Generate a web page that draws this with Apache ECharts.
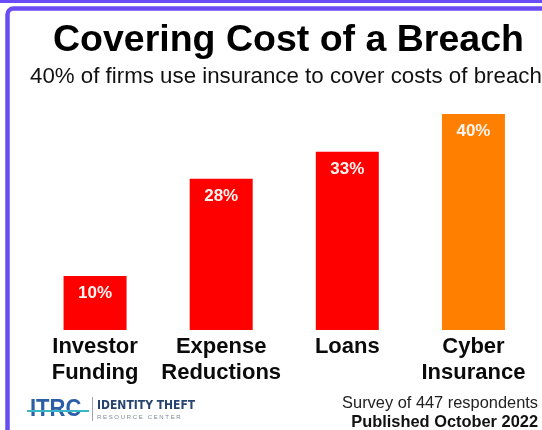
<!DOCTYPE html>
<html>
<head>
<meta charset="utf-8">
<script src="https://cdn.jsdelivr.net/npm/echarts@6/dist/echarts.min.js"></script>
<style>
html,body{margin:0;padding:0;background:#fff;}
#chart{width:542px;height:430px;}
</style>
</head>
<body>
<div id="chart"></div>
<script>
const categories = ['Investor\nFunding', 'Expense\nReductions', 'Loans', 'Cyber\nInsurance'];
const values = [10, 28, 33, 40];
const barColors = ['#ff0000', '#ff0000', '#ff0000', '#ff7f00'];

const FONT = '"Liberation Sans", Arial, sans-serif';
const purple = '#6a4cf4';

const chart = echarts.init(document.getElementById('chart'), null, {renderer: 'canvas'});
chart.setOption({
  backgroundColor: '#ffffff',
  animation: false,
  title: [
    {
      text: 'Covering Cost of a Breach',
      left: 48, top: 17, padding: 5,
      textStyle: {fontFamily: FONT, fontSize: 37.5, fontWeight: 'bold', color: '#000'}
    },
    {
      text: '40% of firms use insurance to cover costs of breach',
      left: 25, top: 61, padding: 5,
      textStyle: {fontFamily: FONT, fontSize: 22.3, fontWeight: 'normal', color: '#111'}
    }
  ],
  grid: {left: 32, right: 5.5, top: 114, bottom: 100, containLabel: false},
  xAxis: {
    type: 'category',
    data: categories,
    axisLine: {show: false},
    axisTick: {show: false},
    axisLabel: {
      interval: 0, margin: 4,
      fontFamily: FONT, fontSize: 22, fontWeight: 'bold', color: '#0a0a0a', lineHeight: 26
    }
  },
  yAxis: {
    type: 'value', min: 0, max: 40,
    show: false
  },
  series: [{
    type: 'bar',
    barWidth: 63,
    data: values.map((v, i) => ({value: v, itemStyle: {color: barColors[i]}})),
    label: {
      show: true, position: 'insideTop', distance: 9,
      formatter: '{c}%',
      fontFamily: FONT, fontSize: 17, fontWeight: 'bold', color: '#fff5f0'
    }
  }],
  graphic: [
    {type: 'rect', shape: {x: 0, y: 0, width: 542, height: 3}, style: {fill: purple}, silent: true},
    {type: 'rect', shape: {x: 7.5, y: 8.5, width: 700, height: 600, r: 6}, style: {fill: 'none', stroke: purple, lineWidth: 4.5}, silent: true},
    // logo
    {type: 'text', x: 30, y: 397, scaleY: 1.12, style: {text: 'ITRC', fontFamily: FONT, fontSize: 22, fontWeight: 'bold', fill: '#2c5ea8'}},
    {type: 'rect', shape: {x: 27, y: 410, width: 62, height: 2}, style: {fill: '#39b7c9'}},
    {type: 'rect', shape: {x: 92, y: 397, width: 1, height: 24}, style: {fill: '#9aa3b0'}},
    {type: 'text', x: 97, y: 400, style: {text: 'IDENTITY THEFT', fontFamily: '"Liberation Sans Narrow", "DejaVu Sans Condensed", sans-serif', fontSize: 12, fontWeight: 'bold', fill: '#27446e'}},
    {type: 'text', x: 97, y: 414, style: {text: 'R E S O U R C E   C E N T E R', fontFamily: FONT, fontSize: 6, fill: '#7b8795'}},
    // footer right
    {type: 'text', x: 538, y: 395, style: {text: 'Survey of 447 respondents', align: 'right', fontFamily: FONT, fontSize: 16.4, fill: '#222'}},
    {type: 'text', x: 538, y: 414, style: {text: 'Published October 2022', align: 'right', fontFamily: FONT, fontSize: 16.4, fontWeight: 'bold', fill: '#111'}}
  ]
});
</script>
</body>
</html>
